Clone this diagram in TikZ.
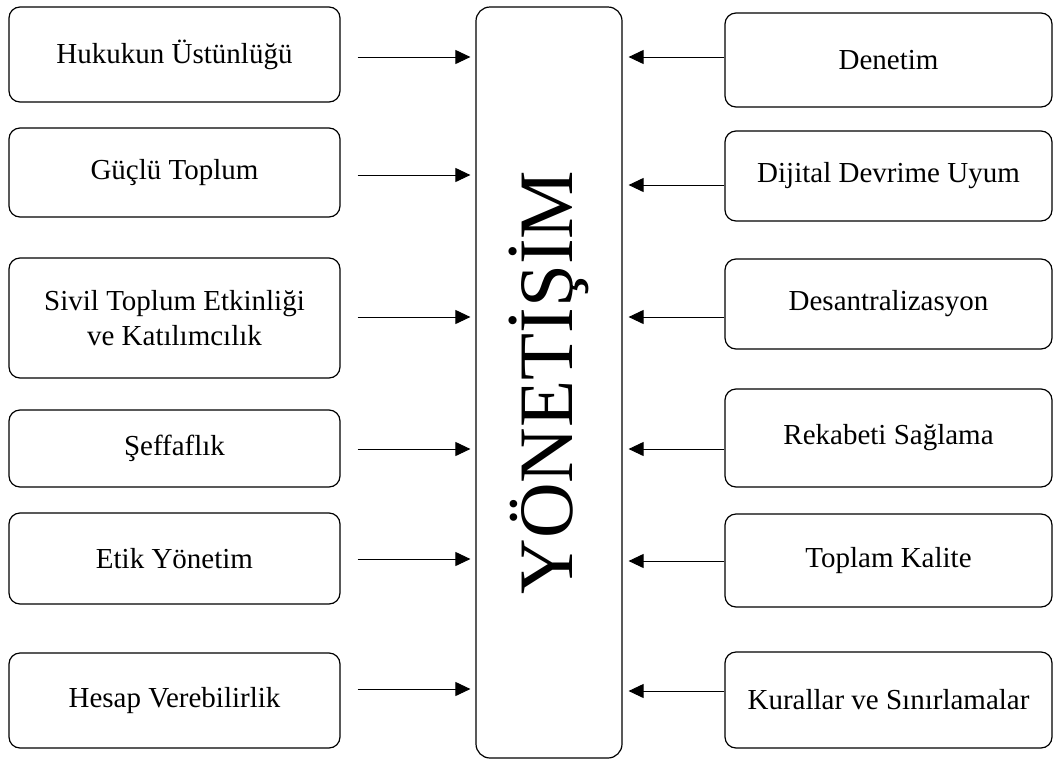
\documentclass[tikz,border=0pt]{standalone}
\usepackage{fontspec}
\setmainfont{Liberation Serif}
\usepackage{graphicx}
\usetikzlibrary{arrows.meta}

\begin{document}
\begin{tikzpicture}[
    x=1pt, y=-1pt,
    factor/.style={draw, line width=1.2pt, rounded corners=11pt,
                   align=center, inner sep=2pt,
                   font=\fontsize{29}{35}\selectfont},
    leftbox/.style={factor, minimum width=331pt},
    rightbox/.style={factor, minimum width=327pt},
    core/.style={draw, line width=1.2pt, rounded corners=14pt,
                 minimum width=146pt, minimum height=751pt, inner sep=0pt,
                 font=\fontsize{77}{80}\selectfont},
    link/.style={line width=1pt, -{Triangle[length=15pt, width=14pt]}},
    inarrow/.style={link, shorten <=17pt, shorten >=5pt},
    outarrow/.style={link, shorten >=6pt}
]

\useasboundingbox (0,0) rectangle (1053,761);

% ---------- centre ----------
\node[core] (core) at (549,382.5) {\rotatebox{90}{YÖNETİŞİM}};

% ---------- left column ----------
\node[leftbox, minimum height=95pt]  (l1) at (174.5,54.5)  {Hukukun Üstünlüğü};
\node[leftbox, minimum height=89pt]  (l2) at (174.5,172.5) {Güçlü Toplum};
\node[leftbox, minimum height=120pt] (l3) at (174.5,318)   {Sivil Toplum Etkinliği\\ve Katılımcılık};
\node[leftbox, minimum height=77pt]  (l4) at (174.5,448.5) {Şeffaflık};
\node[leftbox, minimum height=91pt]  (l5) at (174.5,558.5) {Etik Yönetim};
\node[leftbox, minimum height=95pt]  (l6) at (174.5,700.5) {Hesap Verebilirlik};

% ---------- right column ----------
\node[rightbox, minimum height=94pt] (r1) at (888.5,60)    {Denetim};
\node[rightbox, minimum height=90pt] (r2) at (888.5,176)   {Dijital Devrime Uyum};
\node[rightbox, minimum height=90pt] (r3) at (888.5,304)   {Desantralizasyon};
\node[rightbox, minimum height=98pt] (r4) at (888.5,438)   {Rekabeti Sağlama};
\node[rightbox, minimum height=93pt] (r5) at (888.5,560.5) {Toplam Kalite};
\node[rightbox, minimum height=96pt] (r6) at (888.5,700)   {Kurallar ve Sınırlamalar};

% ---------- arrows into the centre ----------
\foreach \n/\y in {l1/57,l2/175,l3/317,l4/449,l5/559,l6/689}
  \draw[inarrow] (\n.east |- 0,\y) -- (core.west |- 0,\y);
\foreach \n/\y in {r1/57,r2/185,r3/317,r4/449,r5/561,r6/691}
  \draw[outarrow] (\n.west |- 0,\y) -- (core.east |- 0,\y);

\end{tikzpicture}
\end{document}
